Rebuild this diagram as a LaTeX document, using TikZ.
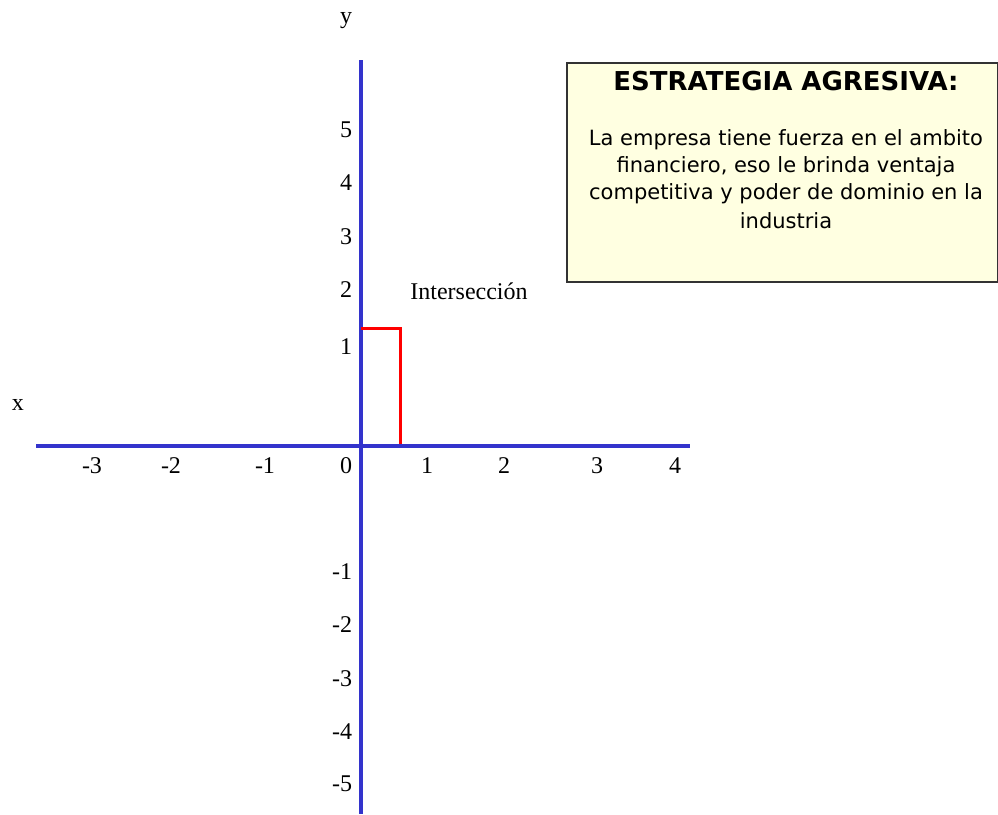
\documentclass[tikz,border=0pt]{standalone}
\usepackage{fontspec}
\setmainfont{Liberation Serif}
\newfontfamily\boxfont{DejaVu Sans}
\definecolor{axisblue}{HTML}{3333CC}
\definecolor{boxfill}{HTML}{FFFFE1}
\definecolor{boxedge}{HTML}{333333}
\begin{document}
\begin{tikzpicture}[x=1pt,y=-1pt,
  axis/.style={draw=axisblue,line width=3.6pt},
  redline/.style={draw=red,line width=3pt},
  lbl/.style={inner sep=0pt,font=\fontsize{24}{26}\selectfont},
  boxtxt/.style={inner sep=0pt,font=\boxfont\fontsize{21}{24}\selectfont}]
\useasboundingbox (0,0) rectangle (998,814);
% axes
\coordinate (xl) at (36,446);
\coordinate (xr) at (690,446);
\coordinate (yt) at (361,60);
\coordinate (yb) at (361,814);
\draw[axis] (xl) -- (xr);
\draw[axis] (yt) -- (yb);
% red intersection lines
\coordinate (ry) at (361,328);
\coordinate (rc) at (400,328);
\coordinate (rb) at (400,444);
\draw[redline] (ry) -- (rc) -- (rb);
% axis names
\node[lbl] (ylab) at (346,21) {y};
\node[lbl] (xlab) at (18,405) {x};
\node[lbl] (inter) at (469,291) {Intersección};
% x tick labels
\foreach \v/\px in {-3/92,-2/171,-1/265,0/346,1/427,2/504,3/597,4/675}
  \node[lbl] (xt\v) at (\px,466) {\v};
% y tick labels
\foreach \v/\py in {5/130,4/183,3/237,2/290,1/347}
  \node[lbl] (yt\v) at (346,\py) {\v};
\foreach \v/\py in {-1/572,-2/625,-3/679,-4/732,-5/784}
  \node[lbl] (ytn\v) at (342,\py) {\v};
% box
\node[draw=boxedge,fill=boxfill,line width=1.6pt,minimum width=431pt,minimum height=219pt,inner sep=0pt] (box) at (782.5,172.5) {};
\node[inner sep=0pt,font=\boxfont\bfseries\fontsize{26}{28}\selectfont] (title) at (786,81) {ESTRATEGIA AGRESIVA:};
\node[boxtxt] (l1) at (786,140) {La empresa tiene fuerza en el ambito};
\node[boxtxt] (l2) at (786,167) {financiero, eso le brinda ventaja};
\node[boxtxt] (l3) at (786,194) {competitiva y poder de dominio en la};
\node[boxtxt] (l4) at (786,221) {industria};
\end{tikzpicture}
\end{document}
